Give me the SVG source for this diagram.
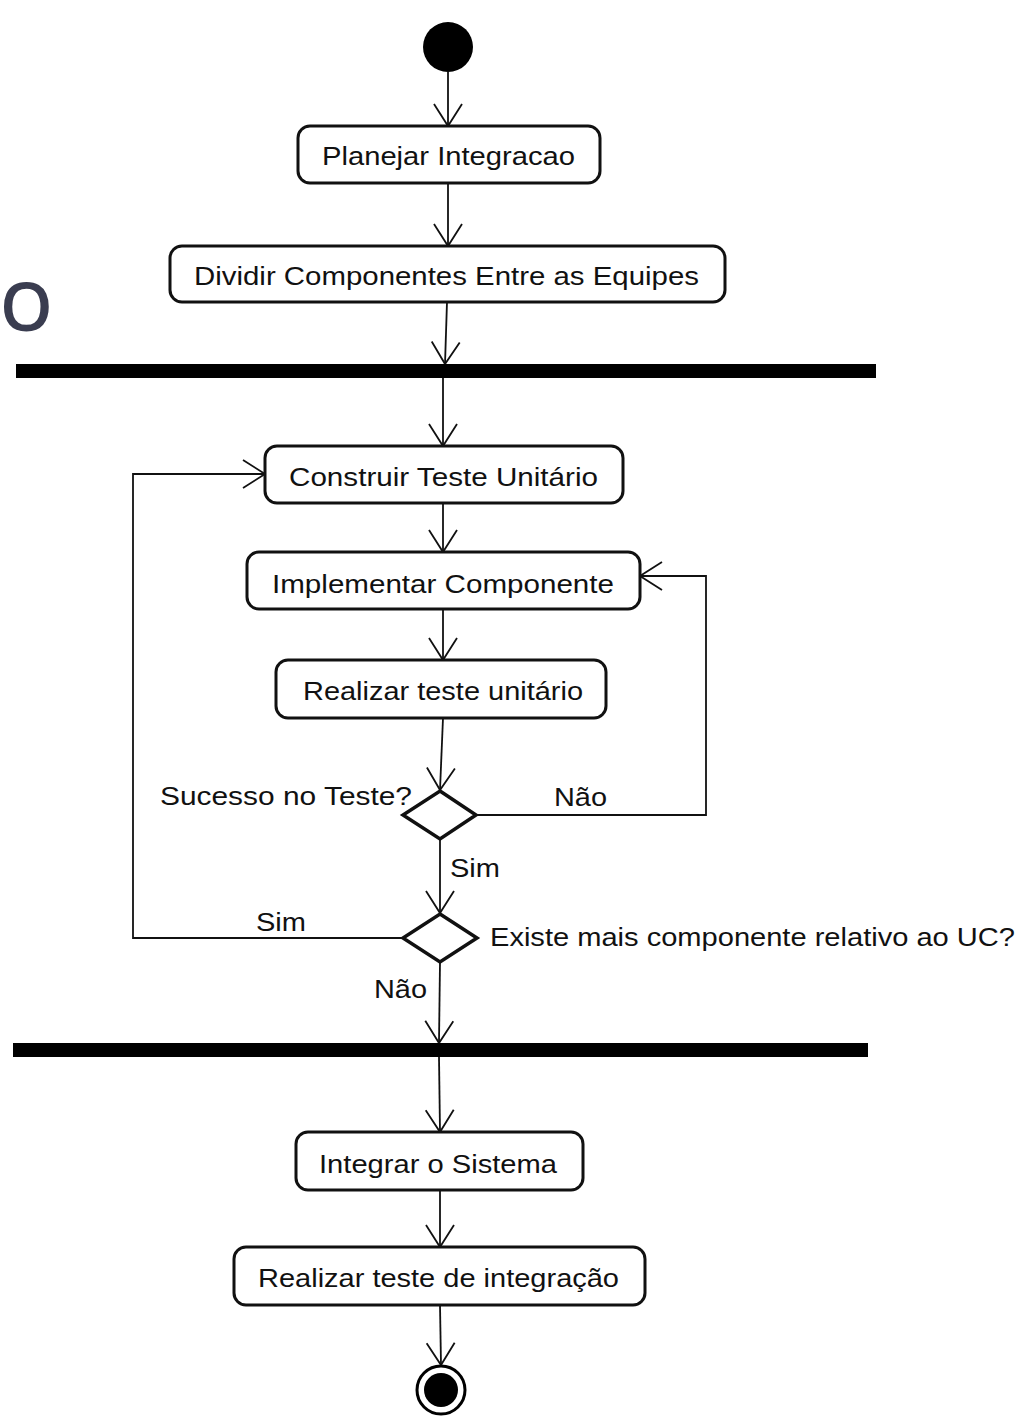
<svg xmlns="http://www.w3.org/2000/svg" width="1025" height="1417" viewBox="0 0 1025 1417">
<defs>
<style>
.box{fill:#fff;stroke:#111;stroke-width:3}
.lbl{font-family:"Liberation Sans",Arial,sans-serif;font-size:26px;fill:#111}
.con{fill:none;stroke:#111;stroke-width:1.8}
.bar{fill:#000}
.dia{fill:#fff;stroke:#111;stroke-width:3.5}
</style>
<marker id="arr" viewBox="-25 -17 27 34" markerWidth="27" markerHeight="34" refX="0" refY="0" markerUnits="userSpaceOnUse" orient="auto">
<path d="M-22,-14 L0,0 L-22,14" fill="none" stroke="#111" stroke-width="1.8"/>
</marker>
</defs>
<rect width="1025" height="1417" fill="#fff"/>
<text x="0" y="331" style="font-family:'Open Sans',sans-serif;font-size:67px;font-weight:600;fill:#3a3d50">O</text>

<g id="connectors">
<line class="con" x1="448" y1="72" x2="448" y2="126" marker-end="url(#arr)"/>
<line class="con" x1="448" y1="183" x2="448" y2="246" marker-end="url(#arr)"/>
<line class="con" x1="447" y1="302" x2="445" y2="364" marker-end="url(#arr)"/>
<line class="con" x1="443" y1="378" x2="443" y2="446" marker-end="url(#arr)"/>
<line class="con" x1="443" y1="503" x2="443" y2="552" marker-end="url(#arr)"/>
<line class="con" x1="443" y1="609" x2="443" y2="660" marker-end="url(#arr)"/>
<line class="con" x1="443" y1="718" x2="440" y2="790" marker-end="url(#arr)"/>
<polyline class="con" points="476,815 706,815 706,576 640,576" marker-end="url(#arr)"/>
<line class="con" x1="440" y1="839" x2="440" y2="913" marker-end="url(#arr)"/>
<polyline class="con" points="403,938 133,938 133,474 265,474" marker-end="url(#arr)"/>
<line class="con" x1="440" y1="962" x2="439" y2="1043" marker-end="url(#arr)"/>
<line class="con" x1="439" y1="1057" x2="440" y2="1132" marker-end="url(#arr)"/>
<line class="con" x1="440" y1="1190" x2="440" y2="1247" marker-end="url(#arr)"/>
<line class="con" x1="440" y1="1305" x2="441" y2="1365" marker-end="url(#arr)"/>
</g>

<g id="start"><circle cx="448" cy="47" r="25" fill="#000"/></g>

<g id="planejar">
<rect class="box" x="298" y="126" width="302" height="57" rx="12"/>
<text class="lbl" x="322" y="165" textLength="253" lengthAdjust="spacingAndGlyphs">Planejar Integracao</text>
</g>
<g id="dividir">
<rect class="box" x="170" y="246" width="555" height="56" rx="12"/>
<text class="lbl" x="194" y="285" textLength="505" lengthAdjust="spacingAndGlyphs">Dividir Componentes Entre as Equipes</text>
</g>
<g id="fork1"><rect class="bar" x="16" y="364" width="860" height="14"/></g>
<g id="construir">
<rect class="box" x="265" y="446" width="358" height="57" rx="12"/>
<text class="lbl" x="289" y="486" textLength="309" lengthAdjust="spacingAndGlyphs">Construir Teste Unitário</text>
</g>
<g id="implementar">
<rect class="box" x="247" y="552" width="393" height="57" rx="12"/>
<text class="lbl" x="272" y="593" textLength="342" lengthAdjust="spacingAndGlyphs">Implementar Componente</text>
</g>
<g id="realizar-unit">
<rect class="box" x="276" y="660" width="330" height="58" rx="12"/>
<text class="lbl" x="303" y="700" textLength="280" lengthAdjust="spacingAndGlyphs">Realizar teste unitário</text>
</g>
<g id="decisao1">
<polygon class="dia" points="440,791 476,815 440,839 403,815"/>
<text class="lbl" x="160" y="805" textLength="252" lengthAdjust="spacingAndGlyphs">Sucesso no Teste?</text>
<text class="lbl" x="554" y="806" textLength="53" lengthAdjust="spacingAndGlyphs">Não</text>
<text class="lbl" x="450" y="877" textLength="50" lengthAdjust="spacingAndGlyphs">Sim</text>
</g>
<g id="decisao2">
<polygon class="dia" points="440,914 477,938 440,962 403,938"/>
<text class="lbl" x="256" y="931" textLength="50" lengthAdjust="spacingAndGlyphs">Sim</text>
<text class="lbl" x="490" y="946" textLength="525" lengthAdjust="spacingAndGlyphs">Existe mais componente relativo ao UC?</text>
<text class="lbl" x="374" y="998" textLength="53" lengthAdjust="spacingAndGlyphs">Não</text>
</g>
<g id="join"><rect class="bar" x="13" y="1043" width="855" height="14"/></g>
<g id="integrar">
<rect class="box" x="296" y="1132" width="287" height="58" rx="12"/>
<text class="lbl" x="319" y="1173" textLength="238" lengthAdjust="spacingAndGlyphs">Integrar o Sistema</text>
</g>
<g id="realizar-int">
<rect class="box" x="234" y="1247" width="411" height="58" rx="12"/>
<text class="lbl" x="258" y="1287" textLength="361" lengthAdjust="spacingAndGlyphs">Realizar teste de integração</text>
</g>
<g id="end">
<circle cx="441" cy="1390" r="24" fill="#fff" stroke="#000" stroke-width="3"/>
<circle cx="441" cy="1390" r="17" fill="#000"/>
</g>
</svg>
